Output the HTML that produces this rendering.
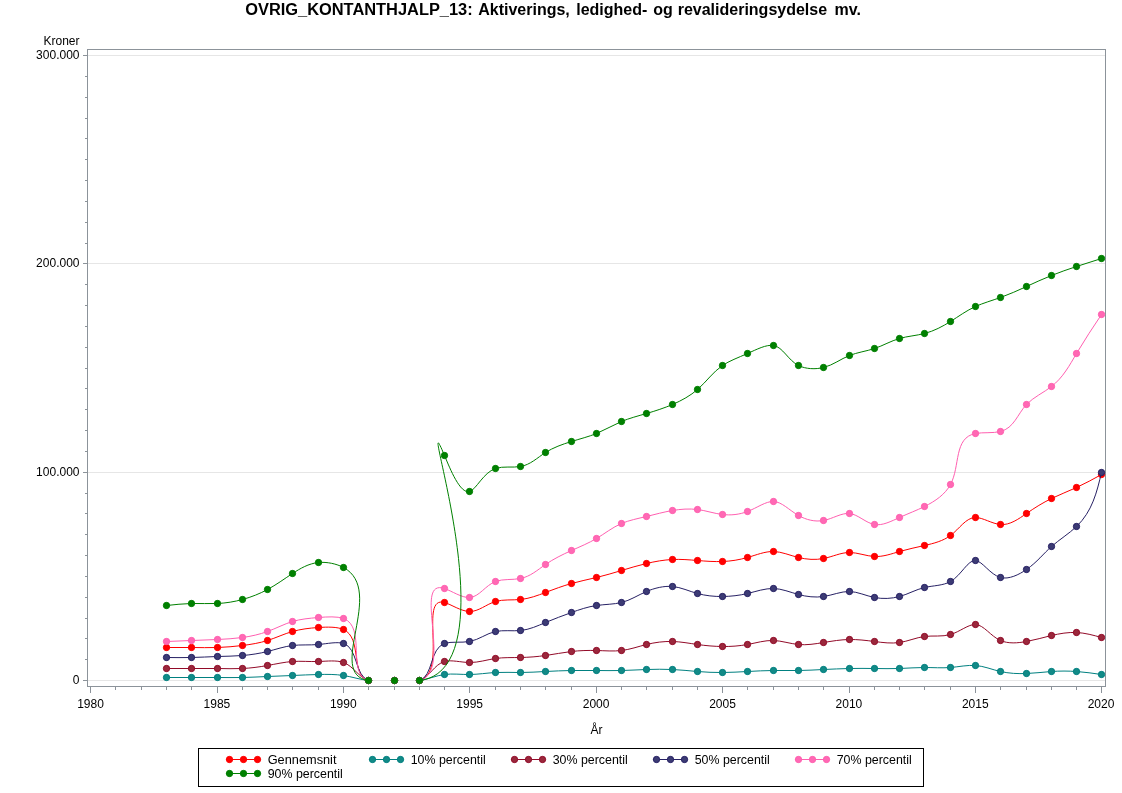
<!DOCTYPE html>
<html lang="da">
<head>
<meta charset="utf-8">
<title>OVRIG_KONTANTHJALP_13</title>
<style>
html,body{margin:0;padding:0;background:#fff;}
body{width:1122px;height:793px;overflow:hidden;}
svg{display:block;}
text{font-family:"Liberation Sans",Arial,Helvetica,sans-serif;font-size:12px;fill:#000;}
.t{font-size:16px;font-weight:bold;}
.ax{stroke:#8c939a;stroke-width:1;fill:none;shape-rendering:crispEdges;}
.gr{stroke:#e6e6e6;stroke-width:1;fill:none;shape-rendering:crispEdges;}
.ln{fill:none;stroke-width:1;stroke-linejoin:round;}
</style>
</head>
<body>
<svg width="1122" height="793" viewBox="0 0 1122 793">
<rect x="0" y="0" width="1122" height="793" fill="#ffffff"/>
<text class="t" y="14.5" xml:space="preserve"><tspan x="245.2" textLength="227.5" lengthAdjust="spacingAndGlyphs">OVRIG_KONTANTHJALP_13:</tspan> <tspan x="478.2">Aktiverings,</tspan> <tspan x="576.2">ledighed-</tspan> <tspan x="653.2">og</tspan> <tspan x="677.7">revalideringsydelse</tspan> <tspan x="834.5">mv.</tspan></text>
<line class="gr" x1="88" y1="680.5" x2="1105" y2="680.5"/>
<line class="gr" x1="88" y1="472.5" x2="1105" y2="472.5"/>
<line class="gr" x1="88" y1="263.5" x2="1105" y2="263.5"/>
<line class="gr" x1="88" y1="55.5" x2="1105" y2="55.5"/>
<rect class="ax" x="87.5" y="49.5" width="1018" height="637"/>
<path class="ax" d="M83 680.5H87M85 659.5H87M85 638.5H87M85 618.5H87M85 597.5H87M85 576.5H87M85 555.5H87M85 534.5H87M85 513.5H87M85 493.5H87M83 472.5H87M85 451.5H87M85 430.5H87M85 409.5H87M85 388.5H87M85 368.5H87M85 347.5H87M85 326.5H87M85 305.5H87M85 284.5H87M83 263.5H87M85 243.5H87M85 222.5H87M85 201.5H87M85 180.5H87M85 159.5H87M85 138.5H87M85 118.5H87M85 97.5H87M85 76.5H87M83 55.5H87"/>
<path class="ax" d="M90.5 687V693M115.5 687V690M141.5 687V690M166.5 687V690M191.5 687V690M217.5 687V693M242.5 687V690M267.5 687V690M292.5 687V690M318.5 687V690M343.5 687V693M368.5 687V690M394.5 687V690M419.5 687V690M444.5 687V690M469.5 687V693M495.5 687V690M520.5 687V690M545.5 687V690M571.5 687V690M596.5 687V693M621.5 687V690M646.5 687V690M672.5 687V690M697.5 687V690M722.5 687V693M747.5 687V690M773.5 687V690M798.5 687V690M823.5 687V690M849.5 687V693M874.5 687V690M899.5 687V690M924.5 687V690M950.5 687V690M975.5 687V693M1000.5 687V690M1026.5 687V690M1051.5 687V690M1076.5 687V690M1101.5 687V693"/>
<text x="79.5" y="684.3" text-anchor="end">0</text>
<text x="79.5" y="476.3" text-anchor="end">100.000</text>
<text x="79.5" y="267.3" text-anchor="end">200.000</text>
<text x="79.5" y="59.3" text-anchor="end">300.000</text>
<text x="79.5" y="45" text-anchor="end">Kroner</text>
<text x="90.5" y="708" text-anchor="middle">1980</text>
<text x="216.9" y="708" text-anchor="middle">1985</text>
<text x="343.3" y="708" text-anchor="middle">1990</text>
<text x="469.7" y="708" text-anchor="middle">1995</text>
<text x="596.1" y="708" text-anchor="middle">2000</text>
<text x="722.5" y="708" text-anchor="middle">2005</text>
<text x="848.9" y="708" text-anchor="middle">2010</text>
<text x="975.3" y="708" text-anchor="middle">2015</text>
<text x="1101.0" y="708" text-anchor="middle">2020</text>
<text x="596.5" y="734" text-anchor="middle">År</text>
<g>
<path class="ln" stroke="#ff0000" d="M166.5 647.5C174.8 647.5 183.2 647.4 191.5 647.5C200.2 647.6 208.9 647.8 217.5 647.5C225.9 647.2 234.2 646.5 242.5 645.5C251.1 644.4 259.6 643.0 267.5 640.5C276.1 637.8 284.0 633.9 292.5 631.5C300.5 629.2 309.1 628.1 318.5 627.5C327.4 626.9 337.2 626.7 343.5 629.5C362.6 638.1 350.0 675.1 368.5 680.5M419.5 680.5C448.3 672.8 418.4 595.2 444.5 602.5C451.0 604.3 460.9 611.3 469.5 611.5C478.6 611.7 486.3 604.2 495.5 601.5C503.3 599.2 512.2 600.3 520.5 599.5C529.4 598.6 537.5 595.5 545.5 592.5C554.1 589.2 562.6 586.0 571.5 583.5C579.6 581.2 588.2 579.5 596.5 577.5C605.0 575.4 613.3 573.0 621.5 570.5C629.7 568.0 638.0 565.5 646.5 563.5C654.9 561.5 663.7 559.9 672.5 559.5C680.8 559.1 689.1 559.8 697.5 560.5C705.9 561.2 714.2 561.8 722.5 561.5C731.0 561.2 739.3 559.8 747.5 557.5C756.3 555.0 765.0 551.3 773.5 551.5C781.7 551.7 789.9 555.4 798.5 557.5C806.7 559.5 815.3 560.1 823.5 558.5C832.4 556.8 840.8 552.5 849.5 552.5C857.7 552.5 866.2 556.1 874.5 556.5C883.0 556.9 891.3 553.9 899.5 551.5C907.9 549.1 916.2 547.4 924.5 545.5C933.8 543.4 943.1 541.0 950.5 535.5C959.5 528.8 965.8 517.6 975.5 517.5C982.8 517.5 992.0 523.8 1000.5 524.5C1010.0 525.3 1018.6 518.9 1026.5 513.5C1035.0 507.6 1042.7 502.8 1051.5 498.5C1059.4 494.7 1068.2 491.3 1076.5 487.5C1085.2 483.5 1093.4 479.0 1101.5 474.5"/>
<g fill="#ff0000" stroke="#ff0000" stroke-width="1"><circle cx="166.5" cy="647.5" r="3.15"/><circle cx="191.5" cy="647.5" r="3.15"/><circle cx="217.5" cy="647.5" r="3.15"/><circle cx="242.5" cy="645.5" r="3.15"/><circle cx="267.5" cy="640.5" r="3.15"/><circle cx="292.5" cy="631.5" r="3.15"/><circle cx="318.5" cy="627.5" r="3.15"/><circle cx="343.5" cy="629.5" r="3.15"/><circle cx="368.5" cy="680.5" r="3.15"/><circle cx="394.5" cy="680.5" r="3.15"/><circle cx="419.5" cy="680.5" r="3.15"/><circle cx="444.5" cy="602.5" r="3.15"/><circle cx="469.5" cy="611.5" r="3.15"/><circle cx="495.5" cy="601.5" r="3.15"/><circle cx="520.5" cy="599.5" r="3.15"/><circle cx="545.5" cy="592.5" r="3.15"/><circle cx="571.5" cy="583.5" r="3.15"/><circle cx="596.5" cy="577.5" r="3.15"/><circle cx="621.5" cy="570.5" r="3.15"/><circle cx="646.5" cy="563.5" r="3.15"/><circle cx="672.5" cy="559.5" r="3.15"/><circle cx="697.5" cy="560.5" r="3.15"/><circle cx="722.5" cy="561.5" r="3.15"/><circle cx="747.5" cy="557.5" r="3.15"/><circle cx="773.5" cy="551.5" r="3.15"/><circle cx="798.5" cy="557.5" r="3.15"/><circle cx="823.5" cy="558.5" r="3.15"/><circle cx="849.5" cy="552.5" r="3.15"/><circle cx="874.5" cy="556.5" r="3.15"/><circle cx="899.5" cy="551.5" r="3.15"/><circle cx="924.5" cy="545.5" r="3.15"/><circle cx="950.5" cy="535.5" r="3.15"/><circle cx="975.5" cy="517.5" r="3.15"/><circle cx="1000.5" cy="524.5" r="3.15"/><circle cx="1026.5" cy="513.5" r="3.15"/><circle cx="1051.5" cy="498.5" r="3.15"/><circle cx="1076.5" cy="487.5" r="3.15"/><circle cx="1101.5" cy="474.5" r="3.15"/></g>
</g>
<g>
<path class="ln" stroke="#008080" d="M166.5 677.5C174.8 677.5 183.2 677.5 191.5 677.5C200.2 677.5 208.8 677.5 217.5 677.5C225.8 677.5 234.2 677.7 242.5 677.5C250.8 677.3 259.2 676.9 267.5 676.5C275.8 676.1 284.2 675.8 292.5 675.5C301.2 675.1 309.8 674.7 318.5 674.5C326.9 674.3 335.4 674.2 343.5 675.5C352.0 676.8 360.1 679.6 368.5 680.5M419.5 680.5C428.0 679.3 436.0 675.6 444.5 674.5C452.6 673.4 461.1 674.6 469.5 674.5C478.3 674.4 486.8 673.0 495.5 672.5C503.8 672.1 512.2 672.5 520.5 672.5C528.9 672.5 537.2 671.9 545.5 671.5C554.2 671.0 562.8 670.7 571.5 670.5C579.8 670.4 588.2 670.4 596.5 670.5C604.8 670.6 613.2 670.7 621.5 670.5C629.8 670.3 638.2 669.8 646.5 669.5C655.2 669.2 663.9 669.1 672.5 669.5C680.9 669.9 689.2 670.8 697.5 671.5C705.8 672.2 714.2 672.6 722.5 672.5C730.8 672.4 739.2 672.0 747.5 671.5C756.2 671.0 764.8 670.6 773.5 670.5C781.8 670.4 790.2 670.6 798.5 670.5C806.8 670.4 815.2 669.9 823.5 669.5C832.2 669.1 840.8 668.7 849.5 668.5C857.8 668.3 866.2 668.4 874.5 668.5C882.8 668.6 891.2 668.8 899.5 668.5C907.8 668.2 916.2 667.5 924.5 667.5C933.1 667.5 941.8 668.2 950.5 667.5C958.9 666.8 967.4 664.9 975.5 665.5C984.0 666.1 992.0 669.6 1000.5 671.5C1008.9 673.4 1017.8 673.9 1026.5 673.5C1034.9 673.2 1043.1 672.1 1051.5 671.5C1059.8 670.9 1068.2 670.9 1076.5 671.5C1084.9 672.1 1093.2 673.3 1101.5 674.5"/>
<g fill="#128a87" stroke="#008080" stroke-width="1"><circle cx="166.5" cy="677.5" r="3.15"/><circle cx="191.5" cy="677.5" r="3.15"/><circle cx="217.5" cy="677.5" r="3.15"/><circle cx="242.5" cy="677.5" r="3.15"/><circle cx="267.5" cy="676.5" r="3.15"/><circle cx="292.5" cy="675.5" r="3.15"/><circle cx="318.5" cy="674.5" r="3.15"/><circle cx="343.5" cy="675.5" r="3.15"/><circle cx="368.5" cy="680.5" r="3.15"/><circle cx="394.5" cy="680.5" r="3.15"/><circle cx="419.5" cy="680.5" r="3.15"/><circle cx="444.5" cy="674.5" r="3.15"/><circle cx="469.5" cy="674.5" r="3.15"/><circle cx="495.5" cy="672.5" r="3.15"/><circle cx="520.5" cy="672.5" r="3.15"/><circle cx="545.5" cy="671.5" r="3.15"/><circle cx="571.5" cy="670.5" r="3.15"/><circle cx="596.5" cy="670.5" r="3.15"/><circle cx="621.5" cy="670.5" r="3.15"/><circle cx="646.5" cy="669.5" r="3.15"/><circle cx="672.5" cy="669.5" r="3.15"/><circle cx="697.5" cy="671.5" r="3.15"/><circle cx="722.5" cy="672.5" r="3.15"/><circle cx="747.5" cy="671.5" r="3.15"/><circle cx="773.5" cy="670.5" r="3.15"/><circle cx="798.5" cy="670.5" r="3.15"/><circle cx="823.5" cy="669.5" r="3.15"/><circle cx="849.5" cy="668.5" r="3.15"/><circle cx="874.5" cy="668.5" r="3.15"/><circle cx="899.5" cy="668.5" r="3.15"/><circle cx="924.5" cy="667.5" r="3.15"/><circle cx="950.5" cy="667.5" r="3.15"/><circle cx="975.5" cy="665.5" r="3.15"/><circle cx="1000.5" cy="671.5" r="3.15"/><circle cx="1026.5" cy="673.5" r="3.15"/><circle cx="1051.5" cy="671.5" r="3.15"/><circle cx="1076.5" cy="671.5" r="3.15"/><circle cx="1101.5" cy="674.5" r="3.15"/></g>
</g>
<g>
<path class="ln" stroke="#920a28" d="M166.5 668.5C174.8 668.5 183.2 668.5 191.5 668.5C200.2 668.5 208.8 668.4 217.5 668.5C225.8 668.6 234.2 668.9 242.5 668.5C250.9 668.1 259.2 667.0 267.5 665.5C275.9 664.0 284.2 662.1 292.5 661.5C301.0 660.9 309.4 661.8 318.5 661.5C327.2 661.2 336.5 660.0 343.5 662.5C353.5 666.1 358.8 677.5 368.5 680.5M419.5 680.5C429.4 677.2 434.3 664.3 444.5 661.5C451.5 659.6 460.9 662.4 469.5 662.5C478.7 662.6 486.9 659.7 495.5 658.5C503.6 657.3 512.1 657.7 520.5 657.5C528.9 657.3 537.3 656.7 545.5 655.5C554.2 654.3 562.8 652.5 571.5 651.5C579.7 650.5 588.1 650.3 596.5 650.5C604.9 650.7 613.4 651.5 621.5 650.5C630.0 649.5 638.0 646.6 646.5 644.5C654.9 642.4 663.8 641.2 672.5 641.5C680.9 641.7 689.2 643.3 697.5 644.5C705.8 645.7 714.1 646.4 722.5 646.5C730.9 646.6 739.2 646.0 747.5 644.5C756.2 642.9 764.9 640.2 773.5 640.5C781.8 640.8 790.1 643.7 798.5 644.5C806.8 645.3 815.2 643.9 823.5 642.5C832.2 641.1 840.8 639.6 849.5 639.5C857.8 639.4 866.1 640.4 874.5 641.5C882.9 642.6 891.4 643.7 899.5 642.5C908.0 641.3 915.9 637.6 924.5 636.5C933.0 635.4 942.1 637.0 950.5 634.5C959.8 631.8 968.3 624.2 975.5 624.5C983.9 624.9 990.6 636.2 1000.5 640.5C1008.2 643.9 1017.8 643.1 1026.5 641.5C1035.3 639.9 1043.1 637.5 1051.5 635.5C1059.6 633.6 1068.2 632.1 1076.5 632.5C1085.0 632.9 1093.3 635.2 1101.5 637.5"/>
<g fill="#9a283c" stroke="#920a28" stroke-width="1"><circle cx="166.5" cy="668.5" r="3.15"/><circle cx="191.5" cy="668.5" r="3.15"/><circle cx="217.5" cy="668.5" r="3.15"/><circle cx="242.5" cy="668.5" r="3.15"/><circle cx="267.5" cy="665.5" r="3.15"/><circle cx="292.5" cy="661.5" r="3.15"/><circle cx="318.5" cy="661.5" r="3.15"/><circle cx="343.5" cy="662.5" r="3.15"/><circle cx="368.5" cy="680.5" r="3.15"/><circle cx="394.5" cy="680.5" r="3.15"/><circle cx="419.5" cy="680.5" r="3.15"/><circle cx="444.5" cy="661.5" r="3.15"/><circle cx="469.5" cy="662.5" r="3.15"/><circle cx="495.5" cy="658.5" r="3.15"/><circle cx="520.5" cy="657.5" r="3.15"/><circle cx="545.5" cy="655.5" r="3.15"/><circle cx="571.5" cy="651.5" r="3.15"/><circle cx="596.5" cy="650.5" r="3.15"/><circle cx="621.5" cy="650.5" r="3.15"/><circle cx="646.5" cy="644.5" r="3.15"/><circle cx="672.5" cy="641.5" r="3.15"/><circle cx="697.5" cy="644.5" r="3.15"/><circle cx="722.5" cy="646.5" r="3.15"/><circle cx="747.5" cy="644.5" r="3.15"/><circle cx="773.5" cy="640.5" r="3.15"/><circle cx="798.5" cy="644.5" r="3.15"/><circle cx="823.5" cy="642.5" r="3.15"/><circle cx="849.5" cy="639.5" r="3.15"/><circle cx="874.5" cy="641.5" r="3.15"/><circle cx="899.5" cy="642.5" r="3.15"/><circle cx="924.5" cy="636.5" r="3.15"/><circle cx="950.5" cy="634.5" r="3.15"/><circle cx="975.5" cy="624.5" r="3.15"/><circle cx="1000.5" cy="640.5" r="3.15"/><circle cx="1026.5" cy="641.5" r="3.15"/><circle cx="1051.5" cy="635.5" r="3.15"/><circle cx="1076.5" cy="632.5" r="3.15"/><circle cx="1101.5" cy="637.5" r="3.15"/></g>
</g>
<g>
<path class="ln" stroke="#262064" d="M166.5 657.5C174.8 657.6 183.2 657.7 191.5 657.5C200.2 657.3 208.8 656.8 217.5 656.5C225.8 656.2 234.2 656.2 242.5 655.5C251.0 654.8 259.3 653.5 267.5 651.5C275.9 649.4 284.1 646.5 292.5 645.5C300.8 644.5 309.2 645.3 318.5 644.5C327.4 643.7 337.2 641.5 343.5 643.5C358.1 648.1 354.5 675.5 368.5 680.5M419.5 680.5C433.6 675.7 429.4 648.8 444.5 643.5C451.0 641.2 461.2 643.0 469.5 641.5C479.3 639.7 486.4 633.4 495.5 631.5C503.2 629.9 512.3 631.3 520.5 630.5C529.5 629.6 537.5 625.9 545.5 622.5C554.1 618.9 562.7 615.7 571.5 612.5C579.5 609.6 587.7 606.8 596.5 605.5C604.8 604.3 613.8 604.4 621.5 602.5C630.4 600.3 637.7 595.2 646.5 591.5C654.5 588.1 663.9 585.7 672.5 586.5C681.1 587.3 689.0 591.2 697.5 593.5C705.5 595.7 714.1 596.6 722.5 596.5C730.9 596.4 739.2 595.5 747.5 593.5C756.3 591.4 765.0 588.3 773.5 588.5C781.8 588.7 790.0 592.2 798.5 594.5C806.6 596.7 815.2 597.7 823.5 596.5C832.4 595.2 841.1 591.3 849.5 591.5C857.8 591.7 865.8 595.8 874.5 597.5C882.8 599.1 891.7 598.7 899.5 596.5C908.3 594.1 915.7 589.6 924.5 587.5C933.1 585.5 942.9 585.8 950.5 581.5C961.3 575.4 967.8 559.8 975.5 560.5C982.4 561.1 990.2 574.7 1000.5 577.5C1008.9 579.7 1018.9 574.7 1026.5 569.5C1037.4 561.9 1043.2 553.8 1051.5 546.5C1059.2 539.7 1069.1 533.6 1076.5 526.5C1092.3 511.4 1096.9 491.9 1101.5 472.5"/>
<g fill="#3c3b74" stroke="#262064" stroke-width="1"><circle cx="166.5" cy="657.5" r="3.15"/><circle cx="191.5" cy="657.5" r="3.15"/><circle cx="217.5" cy="656.5" r="3.15"/><circle cx="242.5" cy="655.5" r="3.15"/><circle cx="267.5" cy="651.5" r="3.15"/><circle cx="292.5" cy="645.5" r="3.15"/><circle cx="318.5" cy="644.5" r="3.15"/><circle cx="343.5" cy="643.5" r="3.15"/><circle cx="368.5" cy="680.5" r="3.15"/><circle cx="394.5" cy="680.5" r="3.15"/><circle cx="419.5" cy="680.5" r="3.15"/><circle cx="444.5" cy="643.5" r="3.15"/><circle cx="469.5" cy="641.5" r="3.15"/><circle cx="495.5" cy="631.5" r="3.15"/><circle cx="520.5" cy="630.5" r="3.15"/><circle cx="545.5" cy="622.5" r="3.15"/><circle cx="571.5" cy="612.5" r="3.15"/><circle cx="596.5" cy="605.5" r="3.15"/><circle cx="621.5" cy="602.5" r="3.15"/><circle cx="646.5" cy="591.5" r="3.15"/><circle cx="672.5" cy="586.5" r="3.15"/><circle cx="697.5" cy="593.5" r="3.15"/><circle cx="722.5" cy="596.5" r="3.15"/><circle cx="747.5" cy="593.5" r="3.15"/><circle cx="773.5" cy="588.5" r="3.15"/><circle cx="798.5" cy="594.5" r="3.15"/><circle cx="823.5" cy="596.5" r="3.15"/><circle cx="849.5" cy="591.5" r="3.15"/><circle cx="874.5" cy="597.5" r="3.15"/><circle cx="899.5" cy="596.5" r="3.15"/><circle cx="924.5" cy="587.5" r="3.15"/><circle cx="950.5" cy="581.5" r="3.15"/><circle cx="975.5" cy="560.5" r="3.15"/><circle cx="1000.5" cy="577.5" r="3.15"/><circle cx="1026.5" cy="569.5" r="3.15"/><circle cx="1051.5" cy="546.5" r="3.15"/><circle cx="1076.5" cy="526.5" r="3.15"/><circle cx="1101.5" cy="472.5" r="3.15"/></g>
</g>
<g>
<path class="ln" stroke="#ff5fb0" d="M166.5 641.5C174.8 641.2 183.2 640.8 191.5 640.5C200.2 640.2 208.8 639.9 217.5 639.5C225.9 639.1 234.3 638.6 242.5 637.5C251.1 636.3 259.6 634.4 267.5 631.5C276.1 628.4 283.9 624.1 292.5 621.5C300.5 619.1 309.0 618.3 318.5 617.5C327.4 616.8 337.1 616.2 343.5 618.5C366.8 627.0 346.1 674.6 368.5 680.5M419.5 680.5C453.8 672.3 411.9 577.5 444.5 588.5C451.4 590.8 461.6 597.9 469.5 597.5C479.2 597.0 485.3 585.4 495.5 581.5C503.0 578.7 512.6 580.1 520.5 578.5C530.4 576.5 537.6 569.9 545.5 564.5C553.6 558.9 562.4 554.6 571.5 550.5C580.0 546.7 588.7 543.1 596.5 538.5C605.0 533.5 612.3 527.4 621.5 523.5C629.1 520.3 637.9 518.5 646.5 516.5C655.2 514.4 663.6 512.0 672.5 510.5C680.7 509.1 689.3 508.5 697.5 509.5C706.0 510.6 714.0 513.5 722.5 514.5C730.7 515.5 739.4 514.6 747.5 511.5C757.0 507.9 765.7 501.2 773.5 501.5C781.9 501.8 789.2 510.2 798.5 515.5C806.1 519.8 814.9 522.1 823.5 520.5C832.7 518.8 841.4 512.7 849.5 513.5C858.0 514.4 865.8 523.0 874.5 524.5C882.5 525.9 891.3 521.2 899.5 517.5C908.5 513.4 916.7 510.4 924.5 506.5C935.3 501.2 945.2 494.3 950.5 484.5C960.4 466.1 953.5 437.7 975.5 433.5C982.7 432.1 993.1 433.4 1000.5 431.5C1014.1 428.0 1017.5 414.0 1026.5 404.5C1033.4 397.2 1043.7 392.6 1051.5 386.5C1063.1 377.5 1069.6 365.2 1076.5 353.5C1084.4 340.1 1093.0 327.3 1101.5 314.5"/>
<g fill="#ff69b4" stroke="#ff5fb0" stroke-width="1"><circle cx="166.5" cy="641.5" r="3.15"/><circle cx="191.5" cy="640.5" r="3.15"/><circle cx="217.5" cy="639.5" r="3.15"/><circle cx="242.5" cy="637.5" r="3.15"/><circle cx="267.5" cy="631.5" r="3.15"/><circle cx="292.5" cy="621.5" r="3.15"/><circle cx="318.5" cy="617.5" r="3.15"/><circle cx="343.5" cy="618.5" r="3.15"/><circle cx="368.5" cy="680.5" r="3.15"/><circle cx="394.5" cy="680.5" r="3.15"/><circle cx="419.5" cy="680.5" r="3.15"/><circle cx="444.5" cy="588.5" r="3.15"/><circle cx="469.5" cy="597.5" r="3.15"/><circle cx="495.5" cy="581.5" r="3.15"/><circle cx="520.5" cy="578.5" r="3.15"/><circle cx="545.5" cy="564.5" r="3.15"/><circle cx="571.5" cy="550.5" r="3.15"/><circle cx="596.5" cy="538.5" r="3.15"/><circle cx="621.5" cy="523.5" r="3.15"/><circle cx="646.5" cy="516.5" r="3.15"/><circle cx="672.5" cy="510.5" r="3.15"/><circle cx="697.5" cy="509.5" r="3.15"/><circle cx="722.5" cy="514.5" r="3.15"/><circle cx="747.5" cy="511.5" r="3.15"/><circle cx="773.5" cy="501.5" r="3.15"/><circle cx="798.5" cy="515.5" r="3.15"/><circle cx="823.5" cy="520.5" r="3.15"/><circle cx="849.5" cy="513.5" r="3.15"/><circle cx="874.5" cy="524.5" r="3.15"/><circle cx="899.5" cy="517.5" r="3.15"/><circle cx="924.5" cy="506.5" r="3.15"/><circle cx="950.5" cy="484.5" r="3.15"/><circle cx="975.5" cy="433.5" r="3.15"/><circle cx="1000.5" cy="431.5" r="3.15"/><circle cx="1026.5" cy="404.5" r="3.15"/><circle cx="1051.5" cy="386.5" r="3.15"/><circle cx="1076.5" cy="353.5" r="3.15"/><circle cx="1101.5" cy="314.5" r="3.15"/></g>
</g>
<g>
<path class="ln" stroke="#008000" d="M166.5 605.5C174.8 604.6 183.1 603.7 191.5 603.5C200.1 603.3 208.9 603.9 217.5 603.5C226.0 603.1 234.5 601.7 242.5 599.5C251.5 597.0 260.0 593.6 267.5 589.5C276.4 584.7 284.0 579.1 292.5 573.5C300.2 568.5 308.6 563.5 318.5 562.5C327.0 561.7 336.6 563.8 343.5 567.5C386.5 590.5 325.0 674.2 368.5 680.5M419.5 680.5C514.2 669.7 412.5 379.5 444.5 455.5C450.2 469.0 460.1 494.1 469.5 491.5C476.4 489.6 483.0 472.8 495.5 468.5C503.0 465.9 512.7 467.9 520.5 466.5C530.4 464.8 537.3 457.7 545.5 452.5C553.3 447.6 562.2 444.3 571.5 441.5C579.9 438.9 588.6 436.7 596.5 433.5C605.2 429.9 612.9 425.1 621.5 421.5C629.4 418.2 638.0 416.0 646.5 413.5C655.5 410.9 664.3 408.0 672.5 404.5C681.8 400.5 690.5 395.6 697.5 389.5C706.5 381.7 712.9 372.0 722.5 365.5C729.4 360.8 737.9 357.8 747.5 353.5C756.5 349.5 766.3 344.3 773.5 345.5C783.0 347.1 787.8 360.0 798.5 365.5C805.7 369.1 815.5 369.5 823.5 367.5C833.4 365.0 840.5 359.0 849.5 355.5C857.3 352.4 866.4 351.2 874.5 348.5C883.2 345.6 890.7 341.0 899.5 338.5C907.4 336.2 916.4 335.6 924.5 333.5C934.2 331.0 942.6 326.4 950.5 321.5C958.8 316.3 966.4 310.6 975.5 306.5C983.3 303.0 992.1 300.5 1000.5 297.5C1009.5 294.3 1018.0 290.4 1026.5 286.5C1034.7 282.7 1043.0 278.9 1051.5 275.5C1059.6 272.2 1068.0 269.3 1076.5 266.5C1084.8 263.8 1093.1 261.1 1101.5 258.5"/>
<g fill="#008000" stroke="#008000" stroke-width="1"><circle cx="166.5" cy="605.5" r="3.15"/><circle cx="191.5" cy="603.5" r="3.15"/><circle cx="217.5" cy="603.5" r="3.15"/><circle cx="242.5" cy="599.5" r="3.15"/><circle cx="267.5" cy="589.5" r="3.15"/><circle cx="292.5" cy="573.5" r="3.15"/><circle cx="318.5" cy="562.5" r="3.15"/><circle cx="343.5" cy="567.5" r="3.15"/><circle cx="368.5" cy="680.5" r="3.15"/><circle cx="394.5" cy="680.5" r="3.15"/><circle cx="419.5" cy="680.5" r="3.15"/><circle cx="444.5" cy="455.5" r="3.15"/><circle cx="469.5" cy="491.5" r="3.15"/><circle cx="495.5" cy="468.5" r="3.15"/><circle cx="520.5" cy="466.5" r="3.15"/><circle cx="545.5" cy="452.5" r="3.15"/><circle cx="571.5" cy="441.5" r="3.15"/><circle cx="596.5" cy="433.5" r="3.15"/><circle cx="621.5" cy="421.5" r="3.15"/><circle cx="646.5" cy="413.5" r="3.15"/><circle cx="672.5" cy="404.5" r="3.15"/><circle cx="697.5" cy="389.5" r="3.15"/><circle cx="722.5" cy="365.5" r="3.15"/><circle cx="747.5" cy="353.5" r="3.15"/><circle cx="773.5" cy="345.5" r="3.15"/><circle cx="798.5" cy="365.5" r="3.15"/><circle cx="823.5" cy="367.5" r="3.15"/><circle cx="849.5" cy="355.5" r="3.15"/><circle cx="874.5" cy="348.5" r="3.15"/><circle cx="899.5" cy="338.5" r="3.15"/><circle cx="924.5" cy="333.5" r="3.15"/><circle cx="950.5" cy="321.5" r="3.15"/><circle cx="975.5" cy="306.5" r="3.15"/><circle cx="1000.5" cy="297.5" r="3.15"/><circle cx="1026.5" cy="286.5" r="3.15"/><circle cx="1051.5" cy="275.5" r="3.15"/><circle cx="1076.5" cy="266.5" r="3.15"/><circle cx="1101.5" cy="258.5" r="3.15"/></g>
</g>
<rect x="198.5" y="748.5" width="725" height="38" fill="#fff" stroke="#000" stroke-width="1" shape-rendering="crispEdges"/>
<path class="ln" stroke="#ff0000" d="M226.0 759.5H260.5"/><g fill="#ff0000" stroke="#ff0000" stroke-width="1"><circle cx="229.5" cy="759.5" r="3.15"/><circle cx="243.5" cy="759.5" r="3.15"/><circle cx="257.5" cy="759.5" r="3.15"/></g><text x="267.7" y="763.8" textLength="68.8" lengthAdjust="spacingAndGlyphs">Gennemsnit</text>
<path class="ln" stroke="#008080" d="M369.0 759.5H403.5"/><g fill="#128a87" stroke="#008080" stroke-width="1"><circle cx="372.5" cy="759.5" r="3.15"/><circle cx="386.5" cy="759.5" r="3.15"/><circle cx="400.5" cy="759.5" r="3.15"/></g><text x="410.7" y="763.8" textLength="75.1" lengthAdjust="spacingAndGlyphs">10% percentil</text>
<path class="ln" stroke="#920a28" d="M511.0 759.5H545.5"/><g fill="#9a283c" stroke="#920a28" stroke-width="1"><circle cx="514.5" cy="759.5" r="3.15"/><circle cx="528.5" cy="759.5" r="3.15"/><circle cx="542.5" cy="759.5" r="3.15"/></g><text x="552.7" y="763.8" textLength="75.1" lengthAdjust="spacingAndGlyphs">30% percentil</text>
<path class="ln" stroke="#262064" d="M653.0 759.5H687.5"/><g fill="#3c3b74" stroke="#262064" stroke-width="1"><circle cx="656.5" cy="759.5" r="3.15"/><circle cx="670.5" cy="759.5" r="3.15"/><circle cx="684.5" cy="759.5" r="3.15"/></g><text x="694.7" y="763.8" textLength="75.1" lengthAdjust="spacingAndGlyphs">50% percentil</text>
<path class="ln" stroke="#ff5fb0" d="M795.0 759.5H829.5"/><g fill="#ff69b4" stroke="#ff5fb0" stroke-width="1"><circle cx="798.5" cy="759.5" r="3.15"/><circle cx="812.5" cy="759.5" r="3.15"/><circle cx="826.5" cy="759.5" r="3.15"/></g><text x="836.7" y="763.8" textLength="75.1" lengthAdjust="spacingAndGlyphs">70% percentil</text>
<path class="ln" stroke="#008000" d="M226.0 773.5H260.5"/><g fill="#008000" stroke="#008000" stroke-width="1"><circle cx="229.5" cy="773.5" r="3.15"/><circle cx="243.5" cy="773.5" r="3.15"/><circle cx="257.5" cy="773.5" r="3.15"/></g><text x="267.7" y="777.8" textLength="75.1" lengthAdjust="spacingAndGlyphs">90% percentil</text>
</svg>
</body>
</html>
